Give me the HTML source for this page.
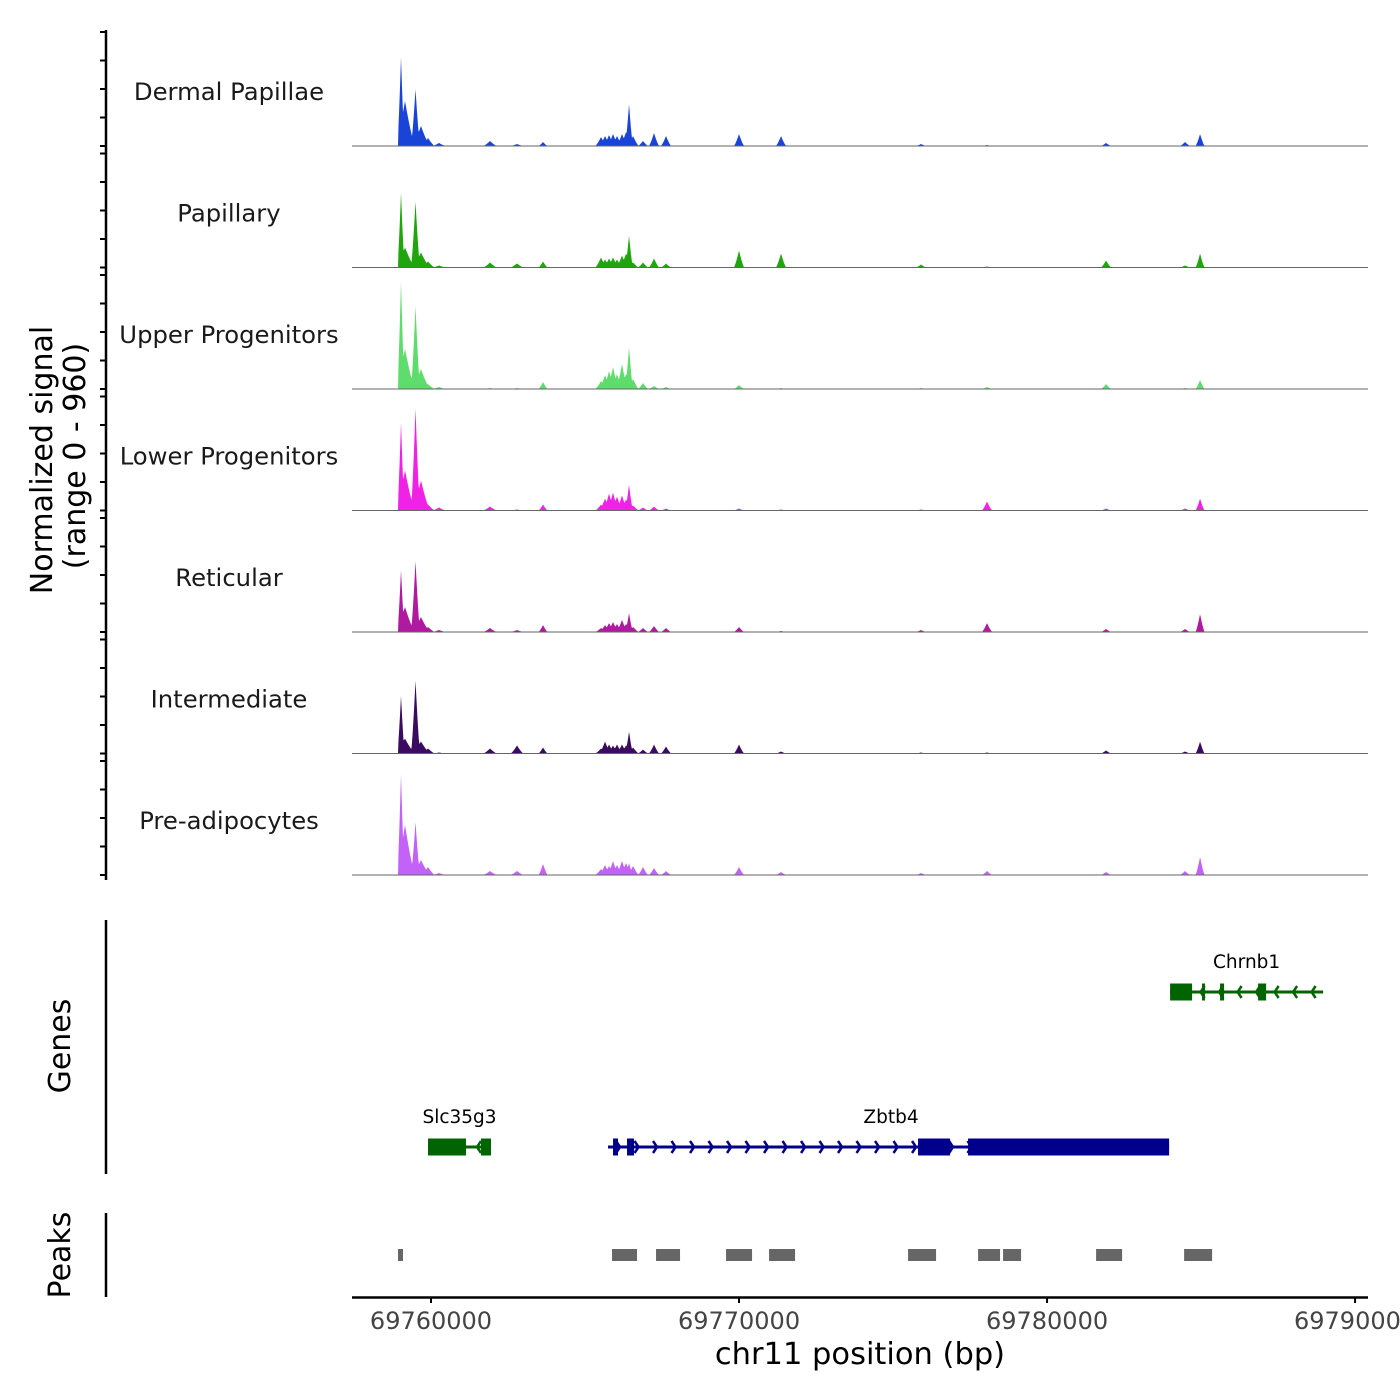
<!DOCTYPE html>
<html><head><meta charset="utf-8"><style>
html,body{margin:0;padding:0;background:#fff;}
svg{display:block;font-family:"DejaVu Sans","Liberation Sans",sans-serif;}
</style></head><body>
<svg id="chart" width="1400" height="1400" viewBox="0 0 1400 1400" xmlns="http://www.w3.org/2000/svg">
<g id="tracks"></g>
<g id="genes"></g>
<g id="peaks"></g>
<g id="axes"></g>
</svg>
<script>
const trackNames = ["Dermal Papillae","Papillary","Upper Progenitors","Lower Progenitors","Reticular","Intermediate","Pre-adipocytes"];
const trackColors = ["#1a44d8","#1ea60c","#5edc6c","#f022e6","#b01aa0","#3a0b5e","#c262f8"];
const peakCenters = [69759026,69759156,69759497,69759675,69759903,69760260,69761916,69762792,69763637,69765520,69765650,69765780,69765909,69766039,69766201,69766331,69766429,69766559,69766883,69767240,69767630,69770000,69771364,69775909,69778052,69781916,69784481,69784968];
const peakWidths = [120,330,150,300,220,220,220,210,150,190,190,190,190,190,190,190,130,190,170,170,170,170,170,170,170,170,170,150];
const sigDP  = [89,45,57,20,8,3,5,2,4,9,10,11,12,10,12,14,42,10,5,13,10,12,10,2,1,3,4,12];
const sigPap = [75,20,66,15,6,2,5,4,6,10,8,9,10,8,12,14,32,5,5,9,4,17,14,3,1,7,2,14];
const sigUP  = [108,40,83,20,5,2,1,1,7,8,14,18,22,15,25,15,42,10,6,3,2,4,1,1,2,5,1,9];
const sigLP  = [88,40,102,30,6,3,4,1,6,6,12,17,18,14,15,11,26,5,3,4,2,2,1,1,9,2,2,12];
const sigRet = [62,25,71,15,5,2,4,2,7,4,7,9,10,8,12,8,19,5,4,6,4,5,1,2,9,3,3,18];
const sigInt = [58,15,73,12,5,1,5,8,6,5,12,9,8,9,9,8,22,6,4,9,7,9,2,1,1,3,2,12];
const sigPre = [101,50,53,15,8,2,4,4,11,6,10,9,14,10,14,12,12,9,8,7,4,8,3,2,4,3,4,18];
const signals = [sigDP,sigPap,sigUP,sigLP,sigRet,sigInt,sigPre];
const yMax = 114; // signal units shown over panel height
const geneNames = ["Slc35g3","Zbtb4","Chrnb1"];
const geneStarts = [69759903,69765747,69783995];
const geneEnds = [69761948,69783963,69788963];
const geneStrands = ["-","+","-"];
const geneRows = [1,1,0];
const geneColors = ["#006400","#00008b","#006400"];
const geneExons = [
 [[69759903,69761136],[69761624,69761948]],
 [[69765909,69766072],[69766364,69766591],[69775812,69776851],[69777436,69783963]],
 [[69783995,69784709],[69785032,69785130],[69785617,69785747],[69786851,69787112]]
];
const peakStarts = [69758928,69765877,69767306,69769579,69770975,69775488,69777761,69778572,69781593,69784450];
const peakEnds   = [69759091,69766689,69768085,69770423,69771819,69776397,69778475,69779157,69782437,69785359];
const xTicks = [69760000,69770000,69780000,69790000];

const NS="http://www.w3.org/2000/svg";
const X0=352, X1=1368, D0=69757435, D1=69790420;
function xs(bp){return X0+(bp-D0)/(D1-D0)*(X1-X0);}
function mk(tag,attrs,parent){const e=document.createElementNS(NS,tag);for(const k in attrs)e.setAttribute(k,attrs[k]);parent.appendChild(e);return e;}
const gT=document.getElementById('tracks'),gG=document.getElementById('genes'),gP=document.getElementById('peaks'),gA=document.getElementById('axes');
const panelH=114, step=121.5, base0=146;
const cutBp=69758930;

signals.forEach((sig,i)=>{
  const b=base0+step*i;
  const ys=v=>b-v/yMax*panelH;
  const g=mk('g',{},gT);
  
  
  let d='M'+X0+' '+b;
  for(let px=X0;px<=X1;px+=0.5){
    const bp=D0+(px-X0)/(X1-X0)*(D1-D0);
    let v=0;
    if(bp>=cutBp){
      for(let k=0;k<peakCenters.length;k++){
        const t=1-Math.abs(bp-peakCenters[k])/peakWidths[k];
        if(t>0)v=Math.max(v,sig[k]*Math.pow(t,1.3));
      }
    }
    d+=' L'+px.toFixed(1)+' '+ys(v).toFixed(2);
  }
  d+=' L'+X1+' '+b+' Z';
  const a=mk('path',{d:d,fill:trackColors[i]},g);
  
  
  const l=mk('line',{x1:X0,x2:X1,y1:b,y2:b,stroke:'#666','stroke-width':1},g);
  
  
  const t=mk('text',{x:229,y:b-46,'text-anchor':'middle','font-size':24.3,fill:'#1a1a1a'},g);
  t.textContent=trackNames[i];
  
  
  for(let k=0;k<5;k++){
    const y=b-k*panelH/4;
    const tk=mk('line',{x1:100,x2:106,y1:y,y2:y,stroke:'#000','stroke-width':2},gA);
    
    
  }
});
mk('line',{x1:106,x2:106,y1:30,y2:880,stroke:'#000','stroke-width':2.5},gA);

// genes
const rowY=[992,1147];
geneNames.forEach((n,i)=>{
  const g=mk('g',{},gG);
  
  
  const y=rowY[geneRows[i]], c=geneColors[i];
  const xa=xs(geneStarts[i]), xb=xs(geneEnds[i]);
  mk('line',{x1:xa,x2:xb,y1:y,y2:y,stroke:c,'stroke-width':3},g);
  for(let x=xa+12;x<xb-4;x+=18.5){
    const dx=geneStrands[i]==='+'?-4:4;
    mk('polyline',{points:(x+dx)+','+(y-6)+' '+x+','+y+' '+(x+dx)+','+(y+6),fill:'none',stroke:c,'stroke-width':2.5},g);
  }
  geneExons[i].forEach(e=>{
    const ex=mk('rect',{x:xs(e[0]),y:y-8.5,width:Math.max(3,xs(e[1])-xs(e[0])),height:17,fill:c},g);
    
    
  });
  const t=mk('text',{x:(xa+xb)/2,y:y-24,'text-anchor':'middle','font-size':18.5,fill:'#000'},g);
  if(n==='Zbtb4')t.setAttribute('x',891);
  t.textContent=n;
  
  
});
mk('line',{x1:106,x2:106,y1:920,y2:1174,stroke:'#000','stroke-width':2.5},gA);

// peaks
peakStarts.forEach((s,i)=>{
  const r=mk('rect',{x:xs(s),y:1249,width:xs(peakEnds[i])-xs(s),height:12,fill:'#666'},gP);
  
  
});
mk('line',{x1:106,x2:106,y1:1213,y2:1297,stroke:'#000','stroke-width':2.5},gA);

// x axis
const xl=mk('line',{x1:X0,x2:X1,y1:1297.5,y2:1297.5,stroke:'#000','stroke-width':2.5},gA);


xTicks.forEach(v=>{
  const x=xs(v);
  const tk=mk('line',{x1:x,x2:x,y1:1297,y2:1303,stroke:'#000','stroke-width':2},gA);
  
  
  const t=mk('text',{x:x,y:1329,'text-anchor':'middle','font-size':24,fill:'#444'},gA);
  t.textContent=v;
  
  
});
</script>
<div style="position:absolute;left:0;top:0;width:1400px;height:1400px;pointer-events:none">
<svg width="1400" height="1400" style="font-family:'DejaVu Sans','Liberation Sans',sans-serif">
<text x="860" y="1364" text-anchor="middle" font-size="30.5" fill="#000">chr11 position (bp)</text>
<text transform="translate(52,460) rotate(-90)" text-anchor="middle" font-size="30" fill="#000">Normalized signal</text>
<text transform="translate(85,456) rotate(-90)" text-anchor="middle" font-size="30" fill="#000">(range 0 - 960)</text>
<text transform="translate(70,1046) rotate(-90)" text-anchor="middle" font-size="30" fill="#000">Genes</text>
<text transform="translate(70,1255) rotate(-90)" text-anchor="middle" font-size="30" fill="#000">Peaks</text>
</svg></div>
</body></html>
